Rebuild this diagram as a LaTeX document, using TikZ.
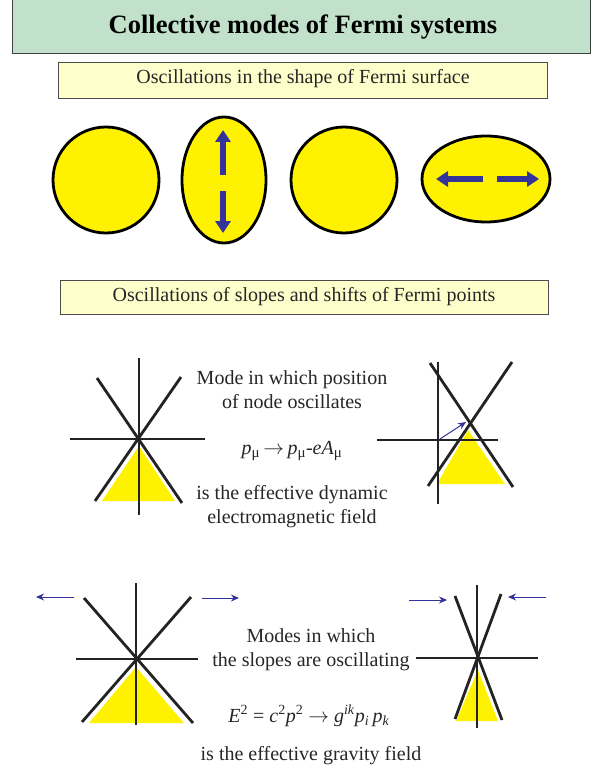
\documentclass[tikz,border=0pt]{standalone}
\usepackage{fontspec}
\setmainfont{Liberation Serif}
\usetikzlibrary{arrows.meta,shapes.geometric}
\definecolor{titlegreen}{RGB}{193,225,202}
\definecolor{boxyellow}{RGB}{255,255,204}
\definecolor{fermiyellow}{RGB}{255,242,0}
\definecolor{arrowblue}{RGB}{51,51,153}
\definecolor{linegray}{RGB}{35,35,35}
\tikzset{
  titlebox/.style={draw=black!75,line width=0.8pt,fill=titlegreen},
  subbox/.style={draw=black!70,line width=0.8pt,fill=boxyellow},
  fermi/.style={draw=black,line width=2.8pt,fill=fermiyellow,inner sep=0pt},
  bigarrow/.style={arrowblue,line width=6.5pt,-{Triangle[length=12pt,width=15pt]}},
  thinarrow/.style={arrowblue,line width=1pt,-{Stealth[length=8pt,width=7pt]}},
  axis/.style={linegray,line width=1.5pt},
  cone/.style={linegray,line width=2.8pt},
  sea/.style={fill=fermiyellow,draw=none},
  bodytext/.style={font=\fontsize{20}{24}\selectfont,align=center,text=black!85},
  subtext/.style={font=\fontsize{20}{24}\selectfont,text=black!85},
}
\begin{document}
\begin{tikzpicture}[x=1pt,y=-1pt]
\useasboundingbox (0,0) rectangle (601,770);
% title
\draw[titlebox] (12,-5) rectangle (590,53);
\node[font=\fontsize{26.5}{30}\selectfont\bfseries] (title) at (303,27) {Collective modes of Fermi systems};
% first subtitle
\draw[subbox] (58,62) rectangle (547,98);
\node[subtext] (sub1) at (303,79) {Oscillations in the shape of Fermi surface};
% Fermi surfaces
\node[fermi,circle,minimum size=106pt] (fs1) at (106,180) {};
\node[fermi,ellipse,minimum width=84pt,minimum height=126pt] (fs2) at (224,180) {};
\node[fermi,circle,minimum size=106pt] (fs3) at (344,180) {};
\node[fermi,ellipse,minimum width=128pt,minimum height=86pt] (fs4) at (486,179) {};
\coordinate (u0) at (223,175); \coordinate (u1) at (223,130);
\coordinate (d0) at (223,191); \coordinate (d1) at (223,233);
\draw[bigarrow] (u0) -- (u1);
\draw[bigarrow] (d0) -- (d1);
\coordinate (l0) at (483,179); \coordinate (l1) at (436,179);
\coordinate (r0) at (497,179); \coordinate (r1) at (539,179);
\draw[bigarrow] (l0) -- (l1);
\draw[bigarrow] (r0) -- (r1);
% second subtitle
\draw[subbox] (60,280) rectangle (548,314);
\node[subtext] (sub2) at (304,297) {Oscillations of slopes and shifts of Fermi points};
% diagram A (left, node at rest)
\fill[sea] (139,446) -- (175,501) -- (102,501) -- cycle;
\draw[axis] (139,358) -- (139,515);
\draw[axis] (70,439) -- (205,439);
\draw[cone] (97,378) -- (182,503);
\draw[cone] (181,377) -- (95,501);
\node[bodytext] (t1) at (292,390) {Mode in which position\\of node oscillates};
\node[bodytext] (f1) at (292,451) {\textit{p}\textsubscript{\fontsize{15}{15}\selectfont μ}\,$\rightarrow$\,\textit{p}\textsubscript{\fontsize{15}{15}\selectfont μ}-\textit{eA}\textsubscript{\fontsize{15}{15}\selectfont μ}};
\node[bodytext] (t2) at (292,507) {is the effective dynamic\\electromagnetic field};
% diagram B (right, shifted node)
\fill[sea] (468,430) -- (505,484) -- (437,484) -- cycle;
\draw[axis] (438,362) -- (438,504);
\draw[axis] (377,440) -- (498,440);
\draw[cone] (430,363) -- (513,487);
\draw[cone] (512,362) -- (428,486);
\coordinate (s0) at (440,439); \coordinate (s1) at (466,422);
\draw[thinarrow] (s0) -- (s1);
% diagram C (left, wide cone)
\fill[sea] (136,667) -- (184,723) -- (89,723) -- cycle;
\draw[axis] (136,583) -- (136,725);
\draw[axis] (76,659) -- (198,659);
\draw[cone] (84,598) -- (193,723);
\draw[cone] (191,597) -- (82,722);
\coordinate (a0) at (74,597); \coordinate (a1) at (36,597);
\coordinate (b0) at (202,598); \coordinate (b1) at (239,598);
\draw[thinarrow] (a0) -- (a1);
\draw[thinarrow] (b0) -- (b1);
% diagram D (right, narrow cone)
\fill[sea] (478,670) -- (498,721) -- (456,721) -- cycle;
\draw[axis] (477,585) -- (477,728);
\draw[axis] (416,658) -- (538,658);
\draw[cone] (455,596) -- (502,720);
\draw[cone] (501,594) -- (455,719);
\coordinate (c0) at (409,600); \coordinate (c1) at (447,600);
\coordinate (e0) at (546,597); \coordinate (e1) at (508,597);
\draw[thinarrow] (c0) -- (c1);
\draw[thinarrow] (e0) -- (e1);
\node[bodytext] (t3) at (311,650) {Modes in which\\the slopes are oscillating};
\node[bodytext] (f2) at (309,716) {\textit{E}\textsuperscript{2} = \textit{c}\textsuperscript{2}\textit{p}\textsuperscript{2} $\rightarrow$ \textit{g}\textsuperscript{\textit{ik}}\textit{p}\textsubscript{\textit{i}}\,\textit{p}\textsubscript{\textit{k}}};
\node[bodytext] (t4) at (311,756) {is the effective gravity field};
\end{tikzpicture}
\end{document}
